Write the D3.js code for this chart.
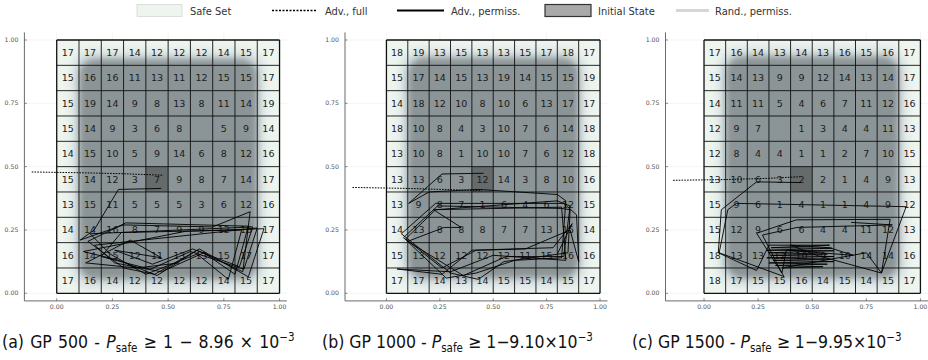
<!DOCTYPE html>
<html><head><meta charset="utf-8">
<script src="https://cdn.jsdelivr.net/npm/d3@7"></script>
<style>body{margin:0;background:#fff} svg{display:block}</style>
</head><body>
<svg id="chart" width="928" height="360"></svg>
<script>
// ---------------- data ----------------
const panelIds = ["a", "b", "c"];
const gpSizes = [500, 1000, 1500];
const epsMantissa = ["8.96", "9.10", "9.95"];
const xTicks = [0, 0.25, 0.5, 0.75, 1];
const yTicks = [0, 0.25, 0.5, 0.75, 1];
const xDomains = [[-0.145, 1.033], [-0.194, 1.035], [-0.178, 1.035]];
const yDomain = [-0.03, 1.03];
const legendLabels = ["Safe Set", "Adv., full", "Adv., permiss.", "Initial State", "Rand., permiss."];

// cell counts, rows from top (y 0.9-1.0) to bottom (y 0-0.1); null = blank
const countsA = [
  [17,17,17,14,12,12,12,14,15,17],
  [15,16,16,11,13,11,12,15,15,17],
  [15,19,14,9,8,13,8,11,14,19],
  [15,14,9,3,6,8,null,5,9,14],
  [14,15,10,5,9,14,6,8,12,16],
  [15,14,12,3,7,9,8,7,14,17],
  [13,15,11,5,5,5,3,6,12,16],
  [14,14,16,8,7,9,9,12,16,17],
  [16,14,15,12,11,13,13,15,17,17],
  [17,16,14,12,12,12,12,14,15,17]
];
const countsB = [
  [18,19,13,15,13,13,15,17,18,17],
  [15,17,14,15,13,19,14,15,15,19],
  [14,18,12,10,8,10,6,13,17,17],
  [18,10,8,4,3,10,7,6,14,18],
  [13,10,8,1,10,10,7,6,12,18],
  [13,13,6,3,12,14,3,8,10,16],
  [13,9,8,7,1,6,4,6,12,15],
  [14,13,8,8,8,7,7,13,15,14],
  [15,13,12,12,12,12,11,15,16,16],
  [17,17,14,13,14,15,15,14,15,17]
];
const countsC = [
  [17,16,14,13,14,13,16,15,16,17],
  [15,14,13,9,9,12,14,13,14,17],
  [14,11,11,5,4,6,7,11,12,16],
  [12,9,7,null,1,3,4,4,11,13],
  [12,8,4,4,1,1,2,7,10,15],
  [13,10,6,3,2,2,1,4,9,13],
  [15,9,6,1,4,1,1,4,9,12],
  [15,12,9,6,6,4,4,11,12,13],
  [18,13,13,12,10,9,10,14,14,16],
  [18,17,15,15,16,14,15,14,15,17]
];
const countsAll = [countsA, countsB, countsC];

// initial state cell (lower-left corner), cell size 0.1
const initialCells = [[0.4, 0.4], [0.4, 0.4], [0.4, 0.4]];
// extent of random permissive trajectory cloud [x0, x1, y0, y1]
const randClouds = [[0.10, 0.90, 0.055, 0.925], [0.10, 0.90, 0.06, 0.93], [0.10, 0.90, 0.06, 0.935]];

// adversarial, full (dashed)
const advFullA = [[-0.112, 0.479], [0.10, 0.476], [0.30, 0.472], [0.479, 0.466]];
const advFullB = [[-0.159, 0.418], [0.10, 0.414], [0.30, 0.409], [0.447, 0.405]];
const advFullC = [[-0.143, 0.446], [0.10, 0.449], [0.30, 0.454], [0.442, 0.46]];
const advFullAll = [advFullA, advFullB, advFullC];

// adversarial, permissive (solid)
const advPermA = [
  [0.469,0.414],[0.277,0.41],[0.168,0.25],[0.105,0.21],[0.30,0.27],[0.70,0.262],[0.868,0.322],[0.835,0.085],
  [0.63,0.17],[0.45,0.07],[0.28,0.13],[0.12,0.165],[0.58,0.245],[0.93,0.255],[0.86,0.065],[0.64,0.175],
  [0.44,0.075],[0.30,0.10],[0.14,0.205],[0.31,0.278],[0.86,0.265],[0.80,0.075],[0.66,0.16],[0.47,0.085],
  [0.26,0.12],[0.17,0.19],[0.90,0.258],[0.84,0.095],[0.60,0.165],[0.42,0.095],[0.20,0.145],[0.29,0.24],
  [0.83,0.25],[0.77,0.055],[0.63,0.155],[0.40,0.075],[0.24,0.155],[0.15,0.235],[0.88,0.262],[0.82,0.105],
  [0.61,0.175],[0.43,0.115],[0.26,0.17],[0.47,0.14],[0.33,0.21],[0.13,0.12],[0.36,0.10],[0.55,0.12]
];
const advPermB = [
  [0.455,0.474],[0.26,0.471],[0.104,0.355],[0.20,0.40],[0.43,0.41],[0.80,0.39],[0.84,0.365],[0.82,0.14],
  [0.60,0.13],[0.42,0.08],[0.28,0.06],[0.08,0.22],[0.24,0.345],[0.82,0.335],[0.86,0.33],[0.85,0.16],
  [0.55,0.125],[0.43,0.055],[0.30,0.08],[0.07,0.235],[0.23,0.355],[0.83,0.355],[0.89,0.31],[0.90,0.125],
  [0.86,0.25],[0.65,0.175],[0.42,0.17],[0.26,0.10],[0.09,0.215],[0.23,0.33],[0.80,0.365],[0.86,0.345],
  [0.83,0.145],[0.56,0.145],[0.36,0.07],[0.10,0.205],[0.27,0.26],[0.35,0.26],[0.22,0.33],[0.82,0.34],
  [0.84,0.13],[0.50,0.15],[0.30,0.085],[0.05,0.096],[0.26,0.075],[0.40,0.17],[0.78,0.18],[0.87,0.275],[0.80,0.155]
];
const advPermC = [
  [0.45,0.437],[0.243,0.44],[0.08,0.33],[0.066,0.16],[0.243,0.09],[0.30,0.19],[0.58,0.19],[0.31,0.18],
  [0.59,0.178],[0.29,0.17],[0.60,0.168],[0.30,0.16],[0.57,0.155],[0.31,0.15],[0.60,0.145],[0.29,0.14],
  [0.58,0.135],[0.32,0.13],[0.60,0.125],[0.30,0.12],[0.57,0.115],[0.33,0.11],[0.55,0.105],[0.36,0.10],
  [0.75,0.16],[0.82,0.08],[0.934,0.342],[0.15,0.355],[0.11,0.33],[0.07,0.16],[0.37,0.066],[0.243,0.237],
  [0.427,0.29],[0.86,0.292],[0.82,0.08],[0.52,0.15],[0.40,0.19],[0.58,0.18],[0.69,0.15],[0.38,0.17],
  [0.36,0.08],[0.27,0.23],[0.43,0.26],[0.87,0.27],[0.68,0.28]
];
const advPermAll = [advPermA, advPermB, advPermC];

// ---------------- drawing ----------------
const svg = d3.select("#chart");
const font = "'DejaVu Sans', sans-serif";
const narrow = "'DejaVu Sans Condensed', 'Liberation Sans Narrow', sans-serif";

const defs = svg.append("defs");
defs.append("filter").attr("id", "blur").attr("x", "-30%").attr("y", "-30%").attr("width", "160%").attr("height", "160%")
  .append("feGaussianBlur").attr("stdDeviation", 5);
defs.append("filter").attr("id", "blur2").attr("x", "-30%").attr("y", "-30%").attr("width", "160%").attr("height", "160%")
  .append("feGaussianBlur").attr("stdDeviation", 3);

const panelLefts = [24.4, 345, 665.5];
const panelW = 262.5;
const plotTop = 32.4, plotBottom = 300.9;

panelIds.forEach((pid, i) => {
  const x = d3.scaleLinear().domain(xDomains[i]).range([panelLefts[i], panelLefts[i] + panelW]);
  const y = d3.scaleLinear().domain(yDomain).range([plotBottom, plotTop]);
  const g = svg.append("g");

  // faint tick gridlines
  g.selectAll(".vg").data(xTicks).join("line")
    .attr("x1", d => x(d)).attr("x2", d => x(d)).attr("y1", plotTop).attr("y2", plotBottom)
    .attr("stroke", "#ececec").attr("stroke-width", 0.6);
  g.selectAll(".hg").data(yTicks).join("line")
    .attr("y1", d => y(d)).attr("y2", d => y(d)).attr("x1", x.range()[0]).attr("x2", x.range()[1])
    .attr("stroke", "#ececec").attr("stroke-width", 0.6);

  // safe set
  g.append("rect").attr("x", x(0)).attr("y", y(1)).attr("width", x(1) - x(0)).attr("height", y(0) - y(1))
    .attr("fill", "#eef5ef");

  // random permissive trajectory cloud
  const c = randClouds[i];
  g.append("rect").attr("x", x(c[0] - 0.03)).attr("y", y(c[3] + 0.03))
    .attr("width", x(c[1] + 0.03) - x(c[0] - 0.03)).attr("height", y(c[2] - 0.03) - y(c[3] + 0.03))
    .attr("rx", 18).attr("fill", "#b9c7d0").attr("opacity", 0.55).attr("filter", "url(#blur)");
  g.append("rect").attr("x", x(c[0])).attr("y", y(c[3]))
    .attr("width", x(c[1]) - x(c[0])).attr("height", y(c[2]) - y(c[3]))
    .attr("rx", 16).attr("fill", "#868e90").attr("opacity", 0.92).attr("filter", "url(#blur2)");

  // initial state
  const ic = initialCells[i];
  g.append("rect").attr("x", x(ic[0])).attr("y", y(ic[1] + 0.1))
    .attr("width", x(ic[0] + 0.1) - x(ic[0])).attr("height", y(ic[1]) - y(ic[1] + 0.1))
    .attr("fill", "#3f3f3f").attr("opacity", 0.5);

  // grid cells
  const edges = d3.range(11).map(k => k / 10);
  g.selectAll(".gv").data(edges).join("line")
    .attr("x1", d => x(d)).attr("x2", d => x(d)).attr("y1", y(0)).attr("y2", y(1))
    .attr("stroke", "#111").attr("stroke-width", (d, k) => (k === 0 || k === 10) ? 1.3 : 0.9);
  g.selectAll(".gh").data(edges).join("line")
    .attr("y1", d => y(d)).attr("y2", d => y(d)).attr("x1", x(0)).attr("x2", x(1))
    .attr("stroke", "#111").attr("stroke-width", (d, k) => (k === 0 || k === 10) ? 1.3 : 0.9);

  // counts
  const cells = [];
  countsAll[i].forEach((row, r) => row.forEach((v, col) => {
    if (v !== null) cells.push({ cx: (col + 0.5) / 10, cy: 1 - (r + 0.5) / 10, v });
  }));
  g.selectAll(".cnt").data(cells).join("text")
    .attr("x", d => x(d.cx)).attr("y", d => y(d.cy)).attr("dy", "0.36em")
    .attr("text-anchor", "middle").attr("font-family", font).attr("font-size", 9.5)
    .attr("fill", "#1c1c1c").text(d => d.v);

  // trajectories
  const line = d3.line().x(d => x(d[0])).y(d => y(d[1]));
  g.append("path").attr("d", line(advPermAll[i])).attr("fill", "none")
    .attr("stroke", "#000").attr("stroke-width", 0.9).attr("stroke-linejoin", "round");
  g.append("path").attr("d", line(advFullAll[i])).attr("fill", "none")
    .attr("stroke", "#000").attr("stroke-width", 1).attr("stroke-dasharray", "1.6,1.2");

  // axes
  g.append("line").attr("x1", x.range()[0]).attr("x2", x.range()[0]).attr("y1", plotTop).attr("y2", plotBottom)
    .attr("stroke", "#5a5a5a").attr("stroke-width", 0.9);
  g.append("line").attr("x1", x.range()[0]).attr("x2", x.range()[1]).attr("y1", plotBottom).attr("y2", plotBottom)
    .attr("stroke", "#5a5a5a").attr("stroke-width", 0.9);
  g.selectAll(".xt").data(xTicks).join("line")
    .attr("x1", d => x(d)).attr("x2", d => x(d)).attr("y1", plotBottom).attr("y2", plotBottom - 2.5)
    .attr("stroke", "#5a5a5a").attr("stroke-width", 0.7);
  g.selectAll(".yt").data(yTicks).join("line")
    .attr("y1", d => y(d)).attr("y2", d => y(d)).attr("x1", x.range()[0]).attr("x2", x.range()[0] + 2.5)
    .attr("stroke", "#5a5a5a").attr("stroke-width", 0.7);
  g.selectAll(".xl").data(xTicks).join("text")
    .attr("x", d => x(d)).attr("y", plotBottom + 8).attr("text-anchor", "middle")
    .attr("font-family", font).attr("font-size", 6.2).attr("fill", "#555").text(d => d.toFixed(2));
  g.selectAll(".yl").data(yTicks).join("text")
    .attr("x", x.range()[0] - 6).attr("y", d => y(d)).attr("dy", "0.35em").attr("text-anchor", "end")
    .attr("font-family", font).attr("font-size", 6.2).attr("fill", "#555").text(d => d.toFixed(2));
});

// captions
const capX = [2, 322, 632];
panelIds.forEach((pid, i) => {
  const wide = i === 0;
  const t = svg.append("text").attr("x", capX[i]).attr("y", 348)
    .attr("font-family", narrow).attr("font-size", 17.5).attr("fill", "#111")
    .attr("word-spacing", wide ? 1.2 : 0);
  t.append("tspan").text(`(${pid}) GP ${gpSizes[i]} - `);
  t.append("tspan").attr("font-style", "italic").text("P");
  t.append("tspan").attr("font-size", 11.5).attr("dy", 3.5).text("safe");
  t.append("tspan").attr("dy", -3.5).text(wide ? ` ≥ 1 − ${epsMantissa[i]} × 10` : ` ≥ 1−${epsMantissa[i]}×10`);
  t.append("tspan").attr("font-size", 11.5).attr("dy", -7).text("−3");
});

// legend
const lg = svg.append("g").attr("font-family", narrow).attr("font-size", 11).attr("fill", "#333");
lg.append("rect").attr("x", 137).attr("y", 4.5).attr("width", 45).attr("height", 12)
  .attr("fill", "#eef4ee").attr("stroke", "#d4d8d4").attr("stroke-width", 0.8);
lg.append("line").attr("x1", 272).attr("x2", 316).attr("y1", 10.5).attr("y2", 10.5)
  .attr("stroke", "#000").attr("stroke-width", 1.6).attr("stroke-dasharray", "2,1.5");
lg.append("line").attr("x1", 397).attr("x2", 444).attr("y1", 10.5).attr("y2", 10.5)
  .attr("stroke", "#000").attr("stroke-width", 2);
lg.append("rect").attr("x", 545).attr("y", 4.5).attr("width", 46).attr("height", 12)
  .attr("fill", "#a9a9a9").attr("stroke", "#333").attr("stroke-width", 1.2);
lg.append("line").attr("x1", 676).attr("x2", 709).attr("y1", 10.5).attr("y2", 10.5)
  .attr("stroke", "#d6d6d6").attr("stroke-width", 3);
const legX = [190, 325, 451, 598, 715];
lg.selectAll(".lt").data(legendLabels).join("text")
  .attr("x", (d, k) => legX[k]).attr("y", 14.5).text(d => d);
</script>
</body></html>
